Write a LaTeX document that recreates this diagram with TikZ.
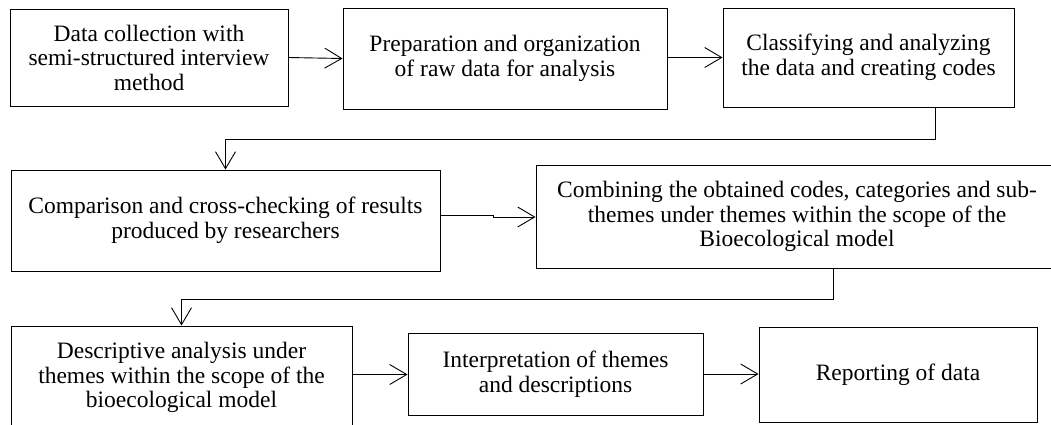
\documentclass[tikz,border=0pt]{standalone}
\usepackage{fontspec}
\setmainfont{Liberation Serif}
\usetikzlibrary{arrows.meta}
\begin{document}
\begin{tikzpicture}[x=1pt,y=-1pt,
  box/.style={draw, line width=0.9pt, align=center, inner sep=0pt,
    font=\fontsize{23.5}{24.5}\selectfont},
  conn/.style={draw, line width=0.9pt, -{Straight Barb[length=17pt,width=20pt,line width=0.9pt]}}]
\path[use as bounding box] (0,0) rectangle (1051,424);
\clip (0,0) rectangle (1051,424);
\node[box, minimum width=278pt, minimum height=97pt] (b1) at (149,57.5)
  {Data collection with\\semi-structured interview\\method};
\node[box, minimum width=324pt, minimum height=101pt] (b2) at (505,58.5)
  {Preparation and organization\\of raw data for analysis};
\node[box, minimum width=291pt, minimum height=99pt] (b3) at (868.5,57.5)
  {Classifying and analyzing\\the data and creating codes};
\node[box, minimum width=429pt, minimum height=101pt] (b4) at (225.5,220.5)
  {Comparison and cross-checking of results\\produced by researchers};
\node[box, minimum width=522pt, minimum height=103pt] (b5) at (797,216.5)
  {Combining the obtained codes, categories and sub-\\themes under themes within the scope of the\\Bioecological model};
\node[box, minimum width=341pt, minimum height=103pt] (b6) at (181.5,377.5)
  {Descriptive analysis under\\themes within the scope of the\\bioecological model};
\node[box, minimum width=295pt, minimum height=82pt] (b7) at (555.5,374)
  {Interpretation of themes\\and descriptions};
\node[box, minimum width=278pt, minimum height=95pt] (b8) at (898,374.5)
  {Reporting of data};
\coordinate (c3) at (935,139);
\coordinate (c5) at (833,299.5);
\coordinate (c45) at (493,215);
\draw[conn] (b1.east) -- (b2.west);
\draw[conn] (b2.east |- 0,57.5) -- (b3.west);
\draw[conn] (b3.south -| c3) -- (c3) -| (b4.north);
\draw[conn] (b4.east |- c45) -- (c45) -- ++(0,2) -- (b5.west |- 0,217);
\draw[conn] (b5.south -| c5) -- (c5) -| (b6.north);
\draw[conn] (b6.east |- 0,374.5) -- (b7.west |- 0,374.5);
\draw[conn] (b7.east) -- (b8.west |- 0,374);
\end{tikzpicture}
\end{document}
